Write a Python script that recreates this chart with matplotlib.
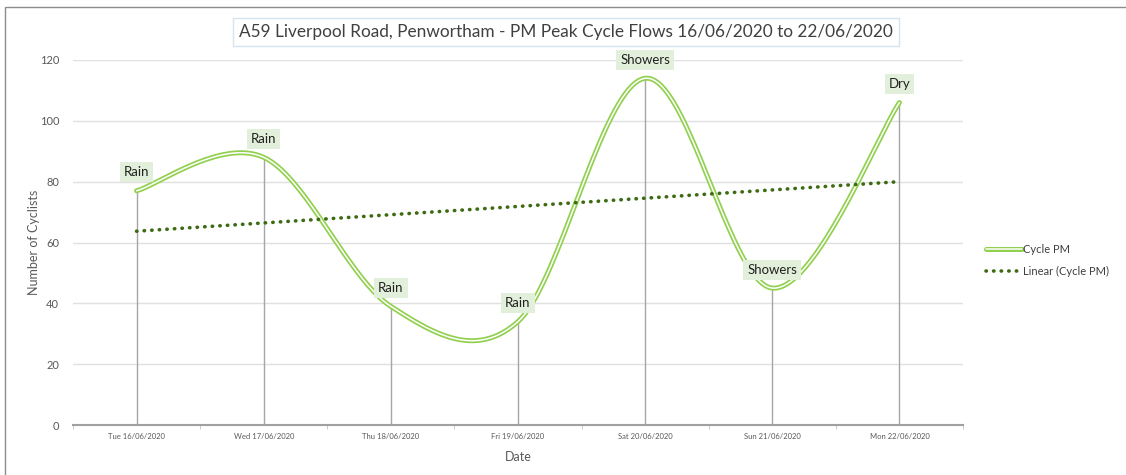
import numpy as np
import matplotlib
matplotlib.use("Agg")
from matplotlib import pyplot as plt
from matplotlib.patches import Rectangle
from matplotlib.legend_handler import HandlerTuple

dates = ["Tue 16/06/2020", "Wed 17/06/2020", "Thu 18/06/2020", "Fri 19/06/2020",
         "Sat 20/06/2020", "Sun 21/06/2020", "Mon 22/06/2020"]
cycle_pm = [77, 88, 39, 34, 114, 45, 106]
weather = ["Rain", "Rain", "Rain", "Rain", "Showers", "Showers", "Dry"]

plt.rcParams['font.family'] = ['Lato', 'DejaVu Sans']


def smooth(xs, ys, n=40):
    # bezier smoothing like excel's smoothed line
    p = np.column_stack([xs, ys]).astype(float)
    p = np.vstack([p[0], p, p[-1]])
    out = []
    t = np.linspace(0, 1, n)[:, None]
    for i in range(1, len(p) - 2):
        p0, p3 = p[i], p[i + 1]
        p1 = p0 + (p[i + 1] - p[i - 1]) / 6
        p2 = p3 - (p[i + 2] - p[i]) / 6
        seg = (1 - t)**3 * p0 + 3 * (1 - t)**2 * t * p1 + 3 * (1 - t) * t**2 * p2 + t**3 * p3
        out.append(seg)
    out = np.vstack(out)
    return out[:, 0], out[:, 1]


x = np.arange(len(dates))
fig = plt.figure(figsize=(11.26, 4.75), dpi=100)
fig.patches.append(Rectangle((5 / 1126, -0.1), 1.2, 1 - 7 / 475 + 0.1, transform=fig.transFigure,
                             fill=False, edgecolor='#8c8c8c', lw=1))

ax = fig.add_axes([73 / 1126, 50 / 475, 890 / 1126, 365 / 475])
ax.set_xlim(-0.5, 6.5)
ax.set_ylim(0, 120)
ax.set_yticks(range(0, 121, 20))
ax.grid(axis='y', color='#e0e0e0', lw=1)
ax.set_axisbelow(True)
for s in ['top', 'left', 'right']:
    ax.spines[s].set_visible(False)
ax.spines['bottom'].set_color('#a0a0a0')
ax.spines['bottom'].set_linewidth(1.5)

ax.set_xticks(x)
ax.set_xticklabels(dates, fontsize=5.5, color='#595959')
ax.set_xticks(np.arange(-0.5, 7, 1), minor=True)
ax.tick_params(axis='x', which='major', length=0, pad=6)
ax.tick_params(axis='x', which='minor', length=3, color='#c0c0c0')
ax.tick_params(axis='y', length=0, labelsize=8, labelcolor='#595959', pad=10)

ax.vlines(x, 0, cycle_pm, color='#a6a6a6', lw=1)

sx, sy = smooth(x, cycle_pm)
outer, = ax.plot(sx, sy, color='#92d050', lw=3.6, solid_capstyle='round')
inner, = ax.plot(sx, sy, color='white', lw=1.1, solid_capstyle='round')

slope, icpt = np.polyfit(x, cycle_pm, 1)
trend = slope * x + icpt
tl, = ax.plot(x, trend, color='#3d6b12', lw=2.6, dashes=(0.1, 2.0), dash_capstyle='round')

for xi, yi, w in zip(x, cycle_pm, weather):
    ax.annotate(w, (xi, yi), xytext=(0, 9), textcoords='offset points', ha='center',
                va='bottom', fontsize=9.5, color='#222222',
                bbox=dict(boxstyle='square,pad=0.3', fc='#e2efda', ec='none'))

ax.set_ylabel('Number of Cyclists', fontsize=9, color='#595959', labelpad=0)
ax.set_xlabel('Date', fontsize=9, color='#595959', labelpad=8)

fig.text(566 / 1126, 1 - 32 / 475, 'A59 Liverpool Road, Penwortham - PM Peak Cycle Flows 16/06/2020 to 22/06/2020',
         ha='center', va='center', fontsize=12.4, color='#404040',
         bbox=dict(boxstyle='square,pad=0.35', fc='white', ec='#d6e3f0', lw=1))

leg = ax.legend([(outer, inner), tl], ['Cycle PM', 'Linear (Cycle PM)'],
                handler_map={tuple: HandlerTuple(ndivide=1)},
                loc='center left', bbox_to_anchor=(1.015, 0.45), frameon=False, fontsize=8,
                handlelength=3.2, handletextpad=0.1, labelspacing=1.0)
for t in leg.get_texts():
    t.set_color('#404040')

fig.savefig('out.png', dpi=100)
